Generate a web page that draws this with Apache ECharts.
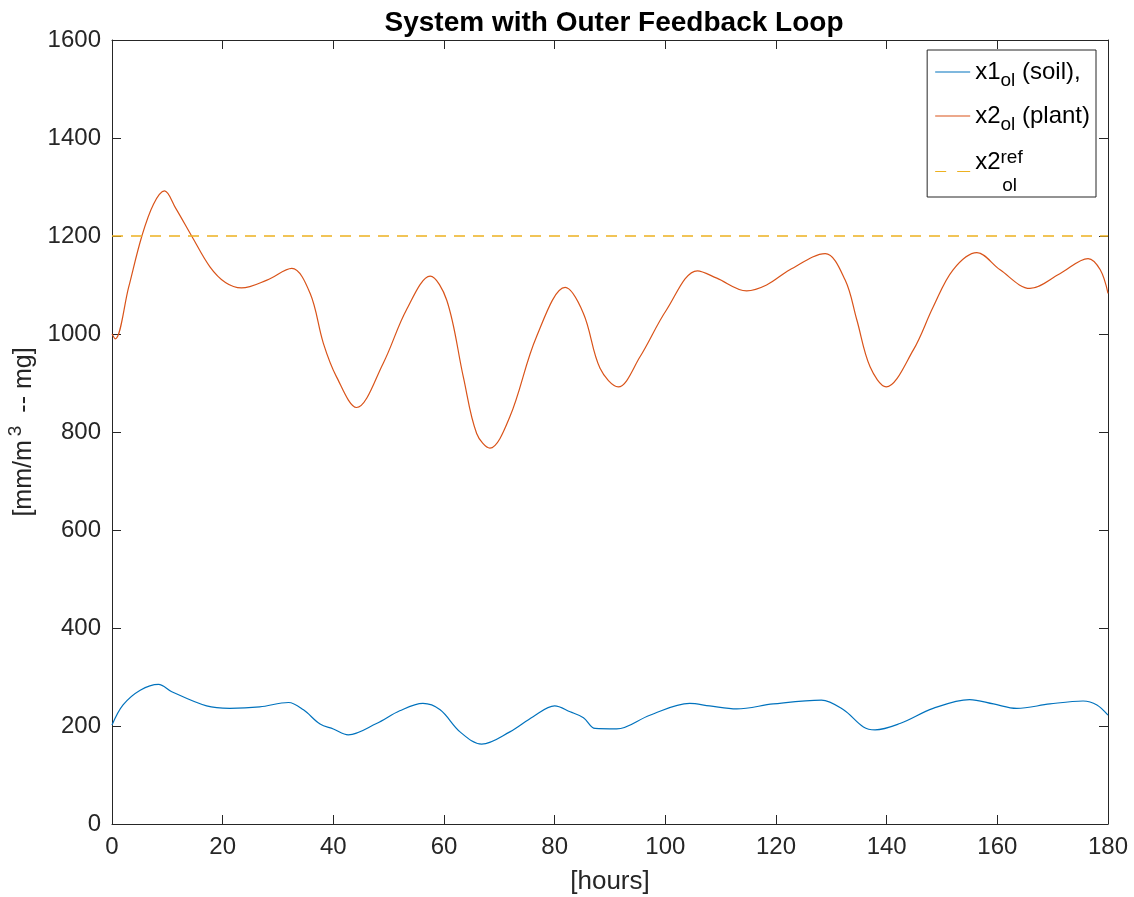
<!DOCTYPE html>
<html>
<head>
<meta charset="utf-8">
<script src="https://cdn.jsdelivr.net/npm/echarts@6/dist/echarts.min.js"></script>
<style>
html,body{margin:0;padding:0;background:#fff;}
#chart{width:1134px;height:897px;}
</style>
</head>
<body>
<div id="chart"></div>
<script>
var titleText = 'System with Outer Feedback Loop';
var xName = '[hours]';
var yName = '[mm/m{sup|3} -- mg]';
var seriesNames = ['x1_ol (soil),', 'x2_ol (plant)', 'x2_ol^ref'];
var legendLabels = ['x1{sub|ol} (soil),', 'x2{sub|ol} (plant)', 'x2{sup|ref}\n{ind|}{sub2|ol}'];
var soilT = [0,2,5.1,8.4,10.8,17.1,21.3,26.7,31.9,34.6,37.6,40,42.7,47.8,52,56.2,59.3,62.9,66.8,71.9,76.1,80,82.8,85.2,87.3,91.2,97.2,104.4,108,112.9,119.5,128.2,132.2,135.8,137.9,142.4,148.4,155,159.3,163.5,169.5,175.5,178,180];
var soilV = [202,243,273,285,270,241,236,239,248,233,204,194,182,205,231,246,233,188,163,188,219,241,229,217,195,194,222,246,241,235,245,253,233,198,192,205,236,254,245,236,245,251,243,222];
var plantT = [0,0.6,3,5.4,7.5,9.5,11.5,14.4,17.7,20.5,23.4,28,32.5,35.8,38.2,40.6,44.2,49,53.2,57.5,60.5,63.5,65.9,68.3,71.9,76.7,81.9,85.2,88.2,91.5,95.4,100.2,105.8,109.3,114.7,118.3,122.5,128.9,132.5,134.6,137,139.9,144.8,148.4,152,156.3,160.5,165.9,171.3,176.4,178.6,180];
var plantV = [1000,990,1095,1200,1265,1292,1257,1200,1137,1105,1094,1110,1134,1083,981,912,850,940,1049,1118,1069,912,797,767,831,994,1095,1042,930,892,953,1049,1129,1114,1088,1100,1131,1164,1110,1029,933,892,967,1055,1131,1166,1131,1093,1123,1154,1131,1083];
var refT = [0,180];
var refV = [1200,1200];

function zip(a,b){return a.map(function(v,i){return [v,b[i]];});}

var axisColor = '#262626';
var font = 'Liberation Sans, Arial, Helvetica, sans-serif';
function plain(v){return String(v);}
function xAx(pos, showLabel){
  return {type:'value', position:pos, min:0, max:180, interval:20,
    axisLine:{show:true, onZero:false, lineStyle:{color:axisColor,width:1}},
    axisTick:{show:true, inside:true, length:9, lineStyle:{color:axisColor}},
    axisLabel:{show:showLabel, fontSize:24, color:axisColor, fontFamily:font, margin:11, formatter:plain},
    splitLine:{show:false},
    name: showLabel ? xName : '', nameLocation:'middle', nameGap:45,
    nameTextStyle:{fontSize:26, color:axisColor, fontFamily:font}};
}
function yAx(pos, showLabel){
  return {type:'value', position:pos, min:0, max:1600, interval:200,
    axisLine:{show:true, onZero:false, lineStyle:{color:axisColor,width:1}},
    axisTick:{show:true, inside:true, length:9, lineStyle:{color:axisColor}},
    axisLabel:{show:showLabel, fontSize:24, color:axisColor, fontFamily:font, margin:11, formatter:plain},
    splitLine:{show:false},
    name: showLabel ? yName : '', nameLocation:'middle', nameGap:62,
    nameTextStyle:{fontSize:25, color:axisColor, fontFamily:font,
      rich:{sup:{fontSize:19, color:axisColor, fontFamily:font, padding:[0,6,16,4]}}}};
}

var chart = echarts.init(document.getElementById('chart'));
chart.setOption({
  animation:false,
  backgroundColor:'#fff',
  title:{text:titleText, left:609, top:4, textAlign:'center',
    textStyle:{fontSize:28, fontWeight:'bold', color:'#000', fontFamily:font}},
  grid:{left:112, right:26, top:40, bottom:73, outerBoundsMode:'none', containLabel:false},
  xAxis:[xAx('bottom',true), xAx('top',false)],
  yAxis:[yAx('left',true), yAx('right',false)],
  legend:{orient:'vertical', right:38, top:50, itemWidth:35, itemHeight:14, itemGap:14,
    padding:[10,6,2,8], borderColor:axisColor, borderWidth:1, backgroundColor:'#fff',
    data:[
      {name:seriesNames[0], icon:'path://M0,0h35v1.2h-35z'},
      {name:seriesNames[1], icon:'path://M0,0h35v1.2h-35z'},
      {name:seriesNames[2], icon:'path://M0,0h11v1.2h-11z M22,0h13v1.2h-13z'}
    ],
    formatter:function(n){return legendLabels[seriesNames.indexOf(n)];},
    textStyle:{fontSize:24, color:'#000', fontFamily:font,
      rich:{
        sub:{fontSize:19, color:'#000', fontFamily:font, padding:[17,0,0,0]},
        sup:{fontSize:19, color:'#000', fontFamily:font, padding:[0,0,9,0]},
        ind:{width:27, fontSize:19},
        sub2:{fontSize:19, color:'#000', fontFamily:font, lineHeight:13}
      }}},
  series:[
    {name:seriesNames[0], type:'line', data:zip(soilT,soilV), smooth:0.35, showSymbol:false, symbol:'none',
      lineStyle:{color:'#0072BD', width:1.2}, itemStyle:{color:'#0072BD'}},
    {name:seriesNames[1], type:'line', data:zip(plantT,plantV), smooth:0.35, showSymbol:false, symbol:'none',
      lineStyle:{color:'#D95319', width:1.2}, itemStyle:{color:'#D95319'}},
    {name:seriesNames[2], type:'line', data:zip(refT,refV), showSymbol:false, symbol:'none',
      lineStyle:{color:'#EDB120', width:1.5, type:[11,8]}, itemStyle:{color:'#EDB120'}}
  ]
});
</script>
</body>
</html>
